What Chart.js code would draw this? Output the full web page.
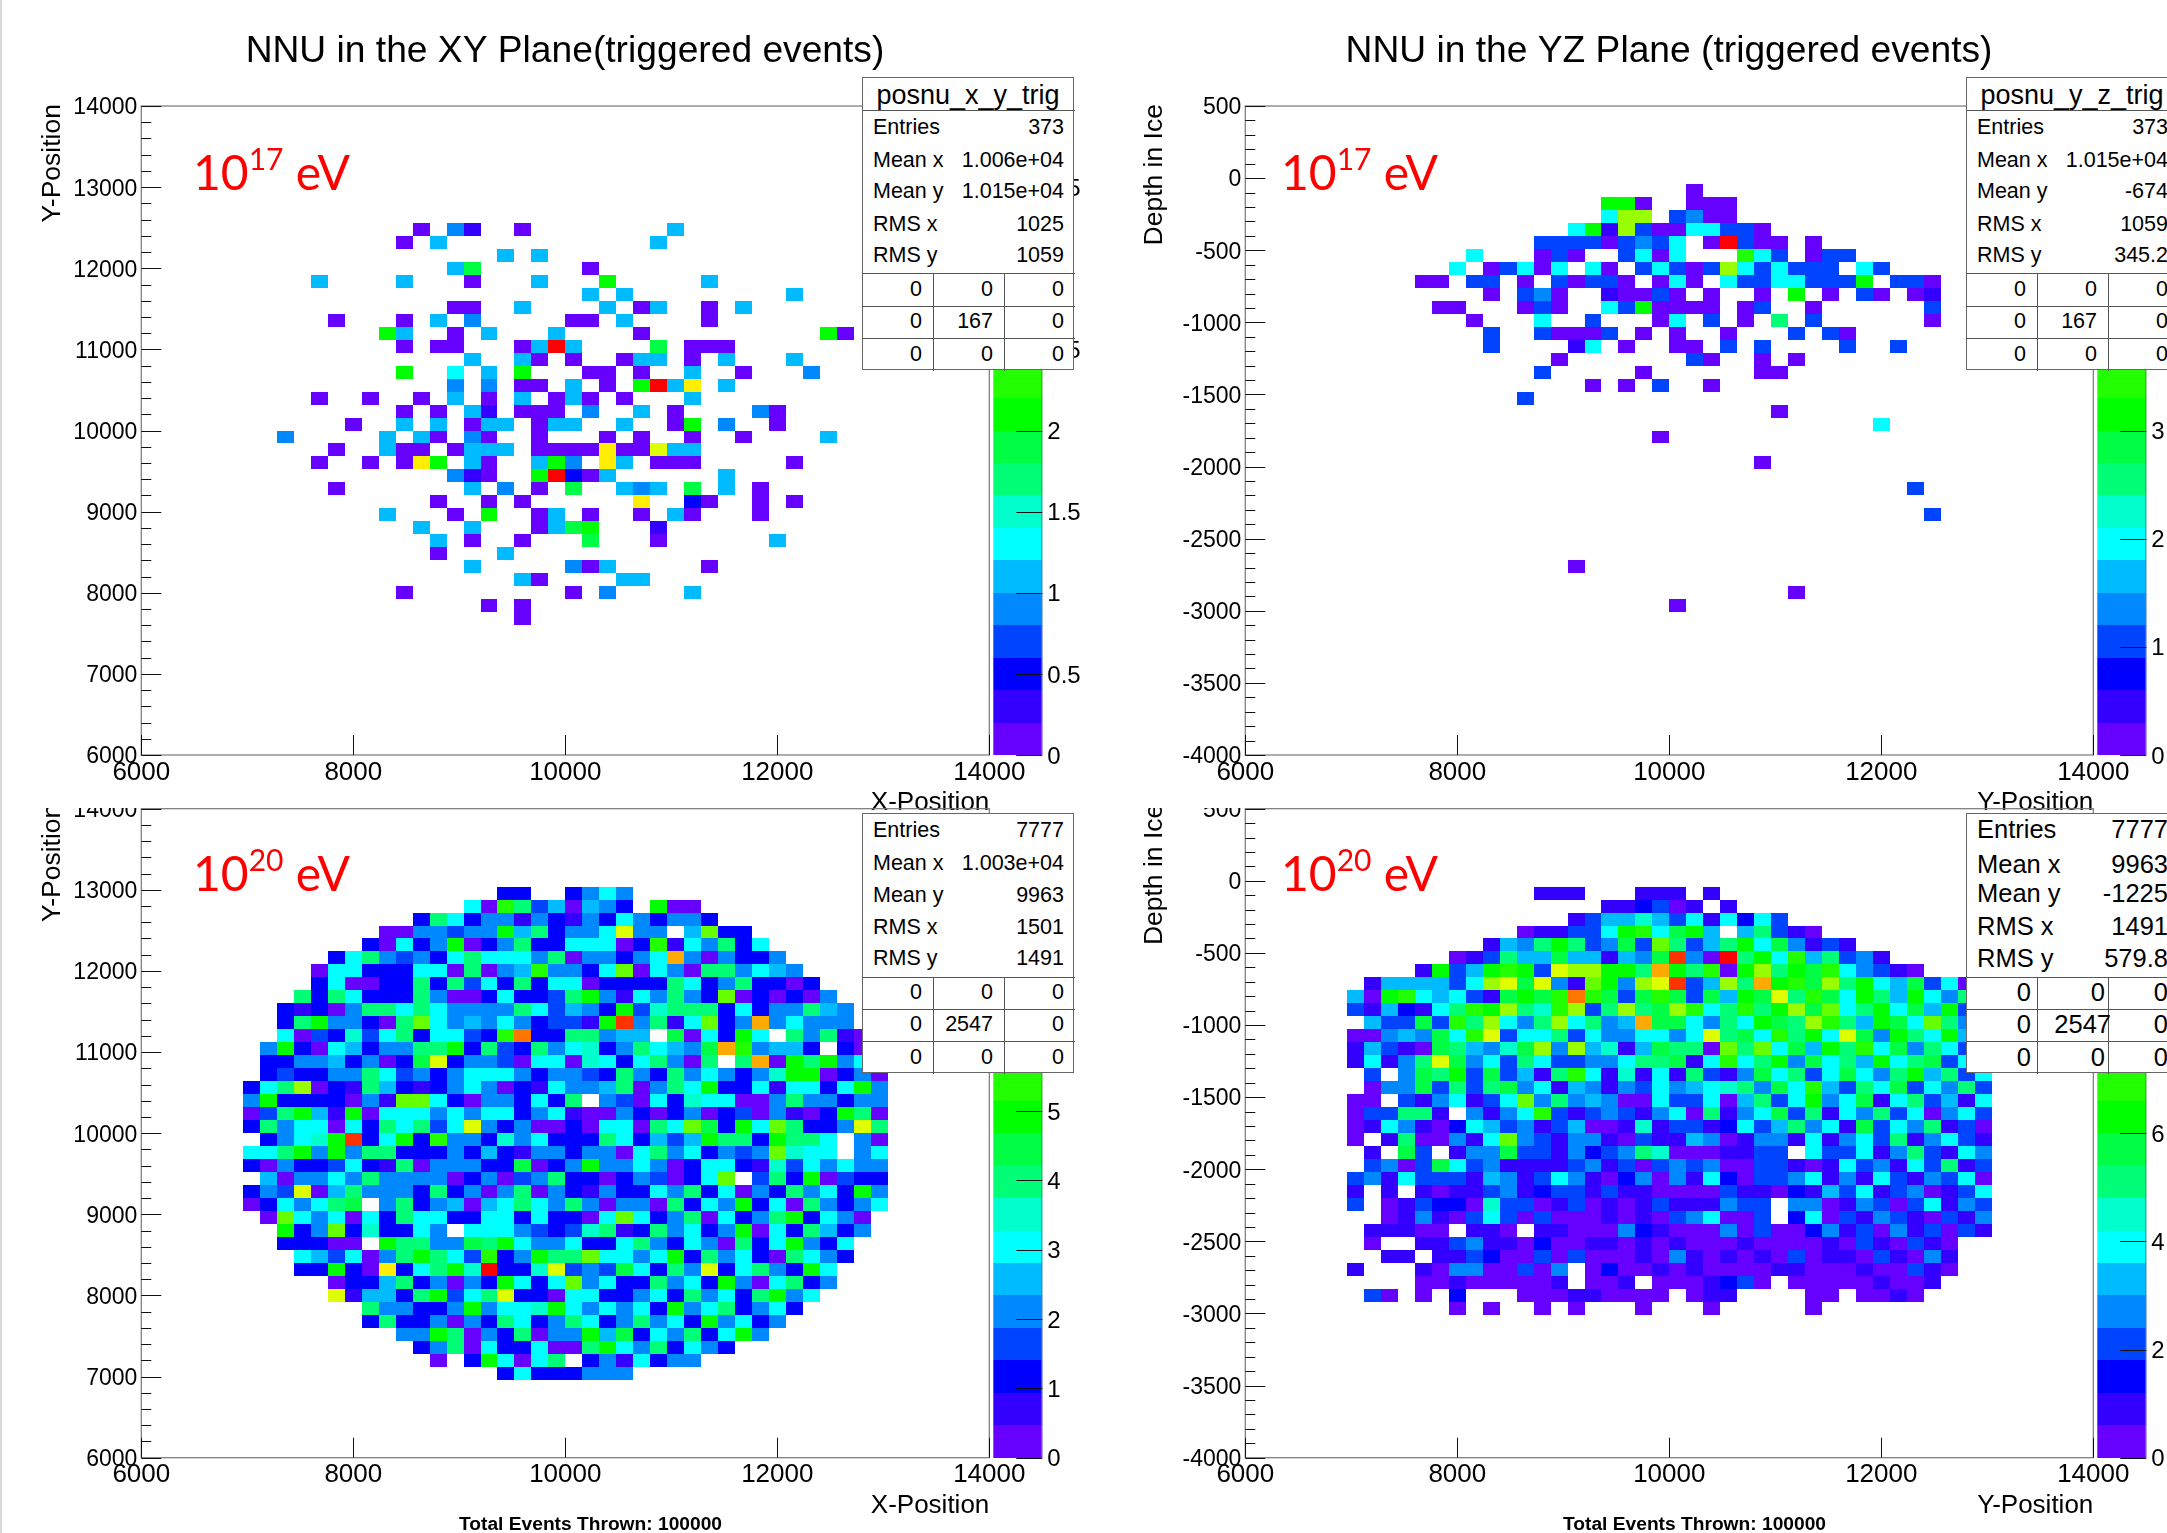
<!DOCTYPE html>
<html>
<head>
<meta charset="utf-8">
<title>NNU trigger maps</title>
<script src="https://cdn.jsdelivr.net/npm/chart.js@4"></script>
<style>
  html, body { margin: 0; padding: 0; background: #fff; width: 2167px; height: 1533px; overflow: hidden; }
  body { position: relative; font-family: "Liberation Sans", Arial, sans-serif; color: #000; }
  canvas { position: absolute; }
  .edge { position: absolute; left: 0; top: 0; width: 2px; height: 1533px; background: #d8d8d8; }
  .box { position: absolute; background: #fff; border: 1px solid #666; box-sizing: border-box; z-index: 5; }
  .box span { position: absolute; white-space: nowrap; }
  .box i { position: absolute; background: #555; }
  .energy { position: absolute; color: #f00; font-family: Lato, sans-serif; font-size: 48px; line-height: 60px; white-space: nowrap; z-index: 4; }
  .energy sup { font-size: 30px; line-height: 0; position: relative; top: -3px; vertical-align: super; }
  .thrown { position: absolute; font-weight: bold; font-size: 19.2px; line-height: 22px; white-space: nowrap; }
</style>
</head>
<body>
<div class="edge"></div>
<canvas id="xyLow" width="1130" height="830" style="left:0;top:0"></canvas>
<canvas id="yzLow" width="1078" height="830" style="left:1130px;top:0"></canvas>
<canvas id="xyHigh" width="1130" height="725" style="left:0;top:808px"></canvas>
<canvas id="yzHigh" width="1078" height="725" style="left:1130px;top:808px"></canvas>
<script>
// each row is "firstColumn:levels", one character per bin, levels in base 20 (0-j), "." is an empty bin
// row 0 is the top row of the plot, 50 x 50 bins
const xyLowRows = [
  "", "", "", "", "", "", "", "", "",
  "16:0 18:41 22:0 31:5",
  "15:0 17:5 30:5",
  "21:5 23:5",
  "18:59 26:0",
  "10:5 15:5 19:0 23:5 27:a 33:5",
  "26:5 28:5 38:5",
  "18:00 22:5 27:5 29:05 33:0 35:5",
  "11:0 15:0 17:5 19:4 25:00 28:5 33:0",
  "14:a5 18:0 20:5 24:5 29:0 40:a0",
  "15:0 17:00 22:05j5 30:9 32:000",
  "19:5 22:50 25:0 28:055 32:0 34:5 38:5",
  "15:a 18:6 20:5 22:a 26:00 29:0 32:5 35:0 39:4",
  "18:4 20:4 22:00 25:5 27:0 29:aj5f 34:5",
  "10:0 13:0 16:0 18:5 20:0 22:5 24:050 28:0 32:5",
  "15:0 17:0 19:51 22:000 26:4 29:5 31:0 36:40",
  "12:0 15:5 17:5 19:055 23:055 28:5 31:0a 34:4 37:0",
  "8:4 14:5 16:50 19:40 23:0 27:0 29:0 32:0 35:0 40:5",
  "11:0 14:500 18:0555 23:0000f00e55",
  "10:0 13:0 15:0fa 19:50 23:5a4 27:f5 30:000 38:0",
  "18:410 23:aj205 34:5",
  "11:0 19:5 21:4 23:0 25:9 28:545 32:9 34:5 36:0",
  "17:0 20:0 22:0 29:f 32:20 36:0 38:0",
  "14:5 18:0 20:a 23:05 26:0 29:0 31:50 36:0",
  "16:5 19:5 23:059a 30:1",
  "17:5 19:0 22:0 26:9 30:0 37:5",
  "17:0 21:5",
  "19:5 25:405 33:0",
  "22:50 28:55",
  "15:0 25:0 27:4 32:5",
  "20:0 22:0",
  "22:0"
];
const yzLowRows = [
  "", "", "", "", "", "",
  "26:0",
  "21:aa0 26:000",
  "21:6dd 25:3400",
  "19:6a1d30066330",
  "17:333303436 27:0j300 33:0",
  "13:6 17:030 22:3606 29:b63 33:033",
  "12:6 14:03606 20:60 23:36303d636333 36:63",
  "10:00 13:33 16:0 18:30330 24:060 28:63366333a 38:330",
  "14:0 16:340 21:10030 27:0 30:0 32:a 34:0 36:30 39:01",
  "11:00 16:030 21:63a0000 29:03 33:0 40:3",
  "13:0 17:6 20:3 24:06 27:3 29:0 31:8 33:3 40:0",
  "14:3 17:30003 23:0 25:0 28:0 32:3 34:30",
  "14:3 19:16 22:0 25:00 28:3 30:3 35:3 38:3",
  "18:0 26:30 30:0 32:0",
  "17:3 23:0 30:00",
  "20:0 22:0 24:3 27:0",
  "16:3",
  "31:0",
  "37:6",
  "24:0",
  "",
  "30:0",
  "",
  "39:3",
  "",
  "40:3",
  "", "", "",
  "19:0",
  "",
  "32:0",
  "25:0"
];
const xyHighRows = [
  "", "", "", "", "", "",
  "21:22 25:2464",
  "19:60b8350542 30:a00",
  "16:286244142142642442",
  "14:0044344a582446e44 32:5c22",
  "13:20624a02482266602b164826",
  "11:26843426866648044246g404224",
  "10:0662226608045b4426c0640884654",
  "10:260022828362826602222862482202",
  "9:82862228400262238a4164842c020204",
  "8:21204886864444863542a3788826244854",
  "8:28a44208c6454642331ai4816c24g46444",
  "8:6032736826632bh2288455.9062a6.84810",
  "7:4a206524488a283284672486549gb4552.20",
  "7:2244524029e2443066076268408.8g0a8a46",
  "7:2322448634246664244328428464247aa0240",
  "6:268d02185212464021644580486a22616626a4",
  "6:4a2222041cc620442628.43062766004844244",
  "6:038a51a0666464662461004202402304102a80",
  "6:2846606286836e424002066086c92a6c8224e8",
  "7:2467ai26a2b442746222862535a882a886.40",
  "6:668a4a4882224252144244068462434c766.46",
  "6:20422362180444229024a44640266217364644",
  "7:50446484444024034822024 3026c.382a0322",
  "6:243e05844428240480421422648260428462a4",
  "6:0264689.482450568648404408264a26084246",
  "7:0c64606286622662622 06c624806248a2640",
  "8:a24c272264.6664323781284624a0628524",
  "8:22200.a884498a6446226842640826a426",
  "9:6536048a863b24a88c6646a2846208642",
  "9:22a20f268a7j227e34396284e26842a6",
  "11:0225824042a626c46228462a406824",
  "11:e15528a368e220662246284628a46",
  "13:844224a4667a646462a4682462",
  "13:28224042862486248462a4624",
  "15:44a80428044a59264826a4",
  "16:24806226008a6482642",
  "17:0.2a6068.2416244",
  "21:26222444"
];
const yzHighRows = [
  "", "", "", "", "", "",
  "17:111 23:111 27:1",
  "21:112301.1",
  "19:1355753616263",
  "16:011336ab69a5.58310",
  "14:1548a83493c8358a694131",
  "12:0138559551549i40j8a6b58341",
  "10:1a35aba3eddaa8ga8b0ad8a9b64310",
  "7:1555536de9e41ca4dei35d8gab9d8a659360",
  "6:50ab656319a9bhb939b9395a9e8b96a85a6485",
  "6:3152168bad87bd38d89db68b8ad9c68a695a36",
  "7:53393b8d648d6845g996486a98db85a96c846",
  "6:0045496be366836446646e896b8a6e94a86a53",
  "6:15310985479d4d57159880c8c695a8b6948638",
  "6:16148e9463863344688916b68a49685a689364",
  "7:3.498a393518b6171618314968369648a5836",
  "7:04493838946154143645678496b5386936483",
  "6:00.3146136c4845400633605836a4691683516",
  "6:033881.4146b31343146081469381648360463",
  "6:01641026534135001713312635846193648130",
  "6:0.1800416c4314410311540144161463814631",
  "7:1.93.14493314234870001133.63361483164",
  "7:3403963411113413034340033101634163813",
  "6:34163331541364102404162033461416314360",
  "6:1.1.1011341233131100003110215361340136",
  "6:3.01322073301301013111433.440143036143",
  "8:01410363030001010346003.260314310314",
  "7:11100.110.110004210004030024130413031",
  "7:0..11341102001101010001000010310310",
  "8:11.1132003030001041010103011031041",
  "6:1 10:104400304.0200101000011000100310",
  "10:001000001.001.0001230.000001001",
  "7:30 10:0 12:2 16:000110000 26:011 33:00 36:0010",
  "12:0 14:0 17:0 19:0 23:0 27:0 33:0"
];

const levelColors = [
  "#6600ff", "#3300ff", "#0000ff", "#0044ff", "#0088ff",
  "#00bbff", "#00ffff", "#00ffcc", "#00ff77", "#00ff44",
  "#00ff00", "#22ff00", "#66ff00", "#99ff00", "#ddff00",
  "#ffee00", "#ffaa00", "#ff7700", "#ff3300", "#ff0000"
];

const zMaxes = { xyLow: 4, yzLow: 6, xyHigh: 9.36, yzHigh: 12 };
const zSteps = { xyLow: 0.5, yzLow: 1, xyHigh: 1, yzHigh: 2 };
const statLabels = ["Entries", "Mean x", "Mean y", "RMS x", "RMS y"];
const xyLowStats = ["373", "1.006e+04", "1.015e+04", "1025", "1059"];
const yzLowStats = ["373", "1.015e+04", "-674", "1059", "345.2"];
const xyHighStats = ["7777", "1.003e+04", "9963", "1501", "1491"];
const yzHighStats = ["7777", "9963", "-1225", "1491", "579.8"];

Chart.defaults.font.family = '"Liberation Sans", Arial, sans-serif';
Chart.defaults.color = "#000";

// rows -> {x, y, level}
function toCells(rows, yMax, yMin) {
  const xBin = 8000 / 50, yBin = (yMax - yMin) / 50;
  const cells = [];
  rows.forEach(function (row, r) {
    row.replace(/ (?![0-9]+:)/g, "").split(" ").forEach(function (run) {
      if (!run) return;
      const parts = run.split(":");
      const first = parseInt(parts[0], 10);
      for (let i = 0; i < parts[1].length; i++) {
        if (parts[1][i] === ".") continue;
        const level = parseInt(parts[1][i], 20);
        cells.push({ x: 6000 + (first + i + 0.5) * xBin, y: yMax - (r + 0.5) * yBin, level: level });
      }
    });
  });
  return cells;
}

// ROOT style: cells, colour bar, frame and inward ticks, all placed from the scales
const rootPlot = {
  id: "rootPlot",
  beforeDatasetsDraw(chart) {
    const ctx = chart.ctx, xs = chart.scales.x, ys = chart.scales.y, zs = chart.scales.z;
    const o = chart.options.plugins.rootPlot;
    const xBin = 160, yBin = (ys.max - ys.min) / 50;
    chart.data.datasets[0].data.forEach(function (c) {
      const x0 = Math.round(xs.getPixelForValue(c.x - xBin / 2));
      const x1 = Math.round(xs.getPixelForValue(c.x + xBin / 2));
      const y0 = Math.round(ys.getPixelForValue(c.y + yBin / 2));
      const y1 = Math.round(ys.getPixelForValue(c.y - yBin / 2));
      ctx.fillStyle = levelColors[c.level];
      ctx.fillRect(x0, y0, x1 - x0, y1 - y0);
    });
    const area = chart.chartArea;
    const barL = area.right + 4, barW = 49;
    const barTop = area.top + o.barCut;
    levelColors.forEach(function (col, i) {
      const y0 = Math.max(barTop, Math.round(zs.getPixelForValue((i + 1) * zs.max / 20)));
      const y1 = Math.round(zs.getPixelForValue(i * zs.max / 20));
      ctx.fillStyle = col;
      ctx.fillRect(barL, y0, barW, y1 - y0);
    });
    ctx.fillStyle = "#777";
    ctx.fillRect(barL + barW - 1, barTop, 1, area.bottom - barTop);
  },
  afterDatasetsDraw(chart) {
    const ctx = chart.ctx, xs = chart.scales.x, ys = chart.scales.y, zs = chart.scales.z;
    const o = chart.options.plugins.rootPlot;
    const a = chart.chartArea;
    ctx.strokeStyle = "#777";
    ctx.lineWidth = 1.2;
    ctx.strokeRect(a.left, a.top, a.right - a.left, a.bottom - a.top);
    ctx.strokeStyle = "#111";
    ctx.lineWidth = 1;
    ctx.beginPath();
    xs.ticks.forEach(function (t) {
      const px = Math.round(xs.getPixelForValue(t.value)) + 0.5;
      ctx.moveTo(px, a.bottom);
      ctx.lineTo(px, a.bottom - 20);
    });
    for (let v = ys.min; v <= ys.max; v += o.yMinor) {
      const py = Math.round(ys.getPixelForValue(v)) + 0.5;
      const major = Math.abs((v - ys.min) % o.yMajor) < 1e-6;
      ctx.moveTo(a.left, py);
      ctx.lineTo(a.left + (major ? 20 : 10), py);
    }
    zs.ticks.forEach(function (t) {
      const py = Math.round(zs.getPixelForValue(t.value)) + 0.5;
      if (py < a.top + o.barCut) return;
      ctx.moveTo(a.right + 4 + 49, py);
      ctx.lineTo(a.right + 4 + 49 - 26, py);
    });
    ctx.stroke();
    // y title sits a little above the frame, the lower panels cut it off
    ctx.save();
    ctx.translate(o.yTitleX, a.top + o.yTitleShift);
    ctx.rotate(-Math.PI / 2);
    ctx.font = '26.5px "Liberation Sans"';
    ctx.fillStyle = "#000";
    ctx.textAlign = "right";
    ctx.textBaseline = "middle";
    ctx.fillText(o.yTitle, 0, 0);
    ctx.restore();
  },
};

function makePanel(id, rows, o) {
  const zMax = zMaxes[id];
  const step = zSteps[id];
  new Chart(document.getElementById(id), {
    type: "scatter",
    plugins: [rootPlot],
    data: {
      datasets: [{ label: id, data: toCells(rows, o.yMax, o.yMin), pointRadius: 0 }],
    },
    options: {
      responsive: false,
      animation: false,
      events: [],
      layout: { padding: { top: o.title ? 0 : 0.7, left: 0, right: 0, bottom: 0 } },
      plugins: {
        legend: { display: false },
        tooltip: { enabled: false },
        title: {
          display: !!o.title,
          text: o.title,
          color: "#000",
          font: { size: 37.2, weight: "normal" },
          padding: { top: 29.7, bottom: 31.7 },
        },
        rootPlot: {
          yMinor: o.yMinor,
          yMajor: o.yMajor,
          yTitle: o.yTitle,
          yTitleX: o.yTitleX,
          yTitleShift: o.title ? -2 : -5,
          barCut: o.title ? 0 : 5,
        },
      },
      scales: {
        x: {
          type: "linear",
          min: 6000,
          max: 14000,
          afterFit(s) {
            s.height = o.xHeight;
            s.paddingLeft = s.paddingRight = 0;
          },
          grid: { display: false, drawTicks: false },
          border: { display: false },
          ticks: { stepSize: 2000, padding: 2, maxRotation: 0, autoSkip: false, font: { size: 26 }, callback: (v) => String(v) },
          title: { display: true, text: o.xTitle, align: "end", font: { size: 26 }, padding: { top: 0, bottom: 12 } },
        },
        y: {
          type: "linear",
          min: o.yMin,
          max: o.yMax,
          afterFit(s) {
            s.width = o.yWidth;
            s.paddingTop = s.paddingBottom = 0;
          },
          grid: { display: false, drawTicks: false },
          border: { display: false },
          ticks: { stepSize: o.yMajor, padding: 4, labelOffset: 2, autoSkip: false, font: { size: 23 }, callback: (v) => String(v) },
        },
        z: {
          type: "linear",
          position: "right",
          min: 0,
          max: zMax,
          afterFit(s) {
            s.width = o.zWidth;
            s.paddingTop = s.paddingBottom = 0;
          },
          grid: { display: false, drawTicks: false },
          border: { display: false },
          ticks: {
            stepSize: step,
            padding: 58,
            labelOffset: 2,
            autoSkip: false,
            font: { size: 24 },
            callback: (v) => (!o.title && v === zMax ? "" : String(v)),
          },
        },
      },
    },
  });
}

makePanel("xyLow", xyLowRows, {
  title: "NNU in the XY Plane(triggered events)", xTitle: "X-Position", yTitle: "Y-Position", yTitleX: 53,
  yMin: 6000, yMax: 14000, yMajor: 1000, yMinor: 200, yWidth: 141.3, zWidth: 140.7, xHeight: 75,
});
makePanel("yzLow", yzLowRows, {
  title: "NNU in the YZ Plane (triggered events)", xTitle: "Y-Position", yTitle: "Depth in Ice", yTitleX: 25,
  yMin: -4000, yMax: 500, yMajor: 500, yMinor: 100, yWidth: 115.3, zWidth: 114.7, xHeight: 75,
});
makePanel("xyHigh", xyHighRows, {
  title: "", xTitle: "X-Position", yTitle: "Y-Position", yTitleX: 53,
  yMin: 6000, yMax: 14000, yMajor: 1000, yMinor: 200, yWidth: 141.3, zWidth: 140.7, xHeight: 75.3,
});
makePanel("yzHigh", yzHighRows, {
  title: "", xTitle: "Y-Position", yTitle: "Depth in Ice", yTitleX: 25,
  yMin: -4000, yMax: 500, yMajor: 500, yMinor: 100, yWidth: 115.3, zWidth: 114.7, xHeight: 75.3,
});

// stat boxes are plain html on top of the canvases
function addSpan(box, text, cx, cy, size, align) {
  const s = document.createElement("span");
  s.textContent = text;
  s.style.fontSize = size + "px";
  s.style.lineHeight = size + "px";
  s.style.top = cy - size / 2 + "px";
  if (align === "right") s.style.right = cx + "px";
  else s.style.left = cx + "px";
  box.appendChild(s);
}
function addLine(box, l, t, w, h) {
  const d = document.createElement("i");
  d.style.cssText = "left:" + l + "px;top:" + t + "px;width:" + w + "px;height:" + h + "px";
  box.appendChild(d);
}
function statBox(left, top, bottom, name, values, middle, rowY, gridY, font, gridRight, middleRight) {
  const box = document.createElement("div");
  box.className = "box";
  box.style.cssText = "left:" + left + "px;top:" + top + "px;width:212px;height:" + (bottom - top) + "px";
  if (name) {
    const s = document.createElement("span");
    s.textContent = name;
    s.style.cssText = "left:0;width:210px;text-align:center;top:" + (94 - top - 16) + "px;font-size:27px;line-height:32px";
    box.appendChild(s);
    addLine(box, 0, 110 - top - 1, 212, 1);
  }
  statLabels.forEach(function (label, i) {
    addSpan(box, label, 10, rowY[i] - top, font, "left");
    addSpan(box, values[i], 9, rowY[i] - top, font, "right");
  });
  addLine(box, 0, gridY[0] - top, 212, 1);
  addLine(box, 0, gridY[1] - top, 212, 1);
  addLine(box, 0, gridY[2] - top, 212, 1);
  addLine(box, 70, gridY[0] - top, 1, bottom - gridY[0]);
  addLine(box, 141, gridY[0] - top, 1, bottom - gridY[0]);
  const grid = [["0", "0", "0"], ["0", middle, "0"], ["0", "0", "0"]];
  const gridBottom = [gridY[1], gridY[2], bottom];
  grid.forEach(function (row, r) {
    const cy = (gridY[r] + gridBottom[r]) / 2 - top;
    row.forEach(function (text, c) {
      addSpan(box, text, text === middle ? middleRight : gridRight[c], cy, font, "right");
    });
  });
  document.body.appendChild(box);
}
statBox(862, 77, 370, "posnu_x_y_trig", xyLowStats, "167", [127, 160, 191, 224, 255], [272, 305, 337], 21.5, [151, 80, 9], 80);
statBox(1966, 77, 370, "posnu_y_z_trig", yzLowStats, "167", [127, 160, 191, 224, 255], [272, 305, 337], 21.5, [151, 80, 9], 80);
statBox(862, 813, 1073, "", xyHighStats, "2547", [830, 863, 895, 927, 958], [976, 1008, 1040], 21.5, [151, 80, 9], 80);
statBox(1966, 813, 1073, "", yzHighStats, "2547", [829, 864, 893, 926, 958], [976, 1008, 1040], 25.5, [146, 72, 9], 66);

[[193, 142, "17"], [1281, 142, "17"], [193, 843, "20"], [1281, 843, "20"]].forEach(function (e) {
  const d = document.createElement("div");
  d.className = "energy";
  d.style.left = e[0] + "px";
  d.style.top = e[1] + "px";
  d.innerHTML = "10<sup>" + e[2] + "</sup> eV";
  document.body.appendChild(d);
});
[[459, 1513], [1563, 1513]].forEach(function (p) {
  const d = document.createElement("div");
  d.className = "thrown";
  d.style.left = p[0] + "px";
  d.style.top = p[1] + "px";
  d.textContent = "Total Events Thrown: 100000";
  document.body.appendChild(d);
});
</script>
</body>
</html>
